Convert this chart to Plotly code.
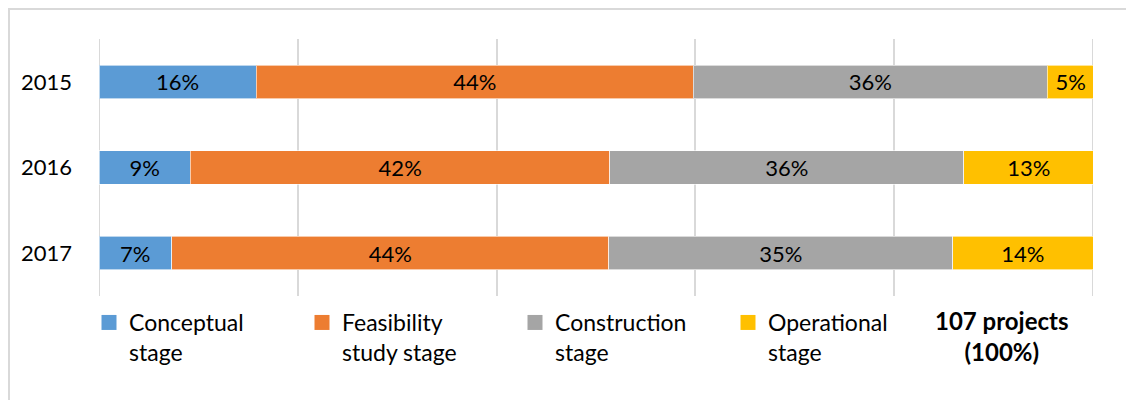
import plotly.graph_objects as go

years = ["2015", "2016", "2017"]
series_names = ["Conceptual<br>stage", "Feasibility<br>study stage", "Construction<br>stage", "Operational<br>stage"]
conceptual = [15.8, 9.2, 7.3]
feasibility = [44.0, 42.2, 44.0]
construction = [35.6, 35.6, 34.6]
operational = [4.7, 13.1, 14.1]
colors = ["#5B9BD5", "#ED7D31", "#A5A5A5", "#FFC000"]
grid_vals = [0, 20, 40, 60, 80, 100]
total_label = "<b>107 projects<br>(100%)</b>"

FONT = "Lato"
W, H = 1134, 400
L, R, T, B = 91, 49, 31, 112
PW, PH = W - L - R, H - T - B

fig = go.Figure()
for name, vals, col in zip(series_names, [conceptual, feasibility, construction, operational], colors):
    fig.add_trace(go.Bar(
        y=years, x=vals, name=name, orientation="h", showlegend=False, legendgroup=name,
        marker=dict(color=col, line=dict(color="rgba(255,255,255,0.6)", width=1)),
        text=vals, texttemplate="%{x:.0f}%", textposition="inside",
        insidetextanchor="middle", textangle=0,
        textfont=dict(family=FONT, size=22, color="#000000"),
    ))
# legend entries with larger square swatches
for name, col in zip(series_names, colors):
    fig.add_trace(go.Scatter(
        x=[None], y=[None], mode="markers", name=name, legendgroup=name,
        marker=dict(symbol="square", size=15, color=col, line=dict(width=0)),
        hoverinfo="skip",
    ))

fig.update_layout(
    barmode="stack", bargap=0.61,
    width=W, height=H,
    margin=dict(l=L, r=R, t=T, b=B),
    paper_bgcolor="white", plot_bgcolor="white",
    font=dict(family=FONT, size=22, color="#000000"),
    showlegend=True,
    legend=dict(orientation="h", x=(81 - L) / PW, xanchor="left", y=-5 / PH, yanchor="top",
                font=dict(family=FONT, size=23, color="#000000"),
                entrywidth=168, entrywidthmode="pixels", itemwidth=30,
                traceorder="normal", valign="top"),
    uniformtext=dict(mode="show", minsize=10),
)
fig.update_xaxes(range=[0, 100], tickvals=grid_vals, showgrid=True, gridcolor="#D9D9D9", gridwidth=2,
                 zeroline=False, showticklabels=False, ticks="", showline=False, fixedrange=True)
fig.update_yaxes(type="category", categoryorder="array", categoryarray=years,
                 autorange="reversed", showgrid=False, zeroline=False, ticks="", showline=False,
                 ticklabelstandoff=26, tickfont=dict(family=FONT, size=22, color="#000000"))

# gridlines at the range ends (plotly hides edge gridlines)
for gx in (grid_vals[0], grid_vals[-1]):
    fig.add_shape(type="line", xref="x", yref="paper", x0=gx, x1=gx, y0=0, y1=1,
                  line=dict(color="#D9D9D9", width=2), layer="below")

fig.add_annotation(xref="paper", yref="paper", x=(994 - L) / PW, y=-8 / PH,
                   xanchor="center", yanchor="top", showarrow=False, text=total_label,
                   font=dict(family=FONT, size=24, color="#000000"), align="center")
# outer chart border (partially visible)
fig.add_shape(type="rect", xref="paper", yref="paper",
              x0=(1 - L) / PW, x1=(W + 20 - L) / PW,
              y0=-(B + 20) / PH, y1=1 + (T - 1) / PH,
              line=dict(color="#D9D9D9", width=2), fillcolor="rgba(0,0,0,0)", layer="below")

fig.write_html("out.html")
